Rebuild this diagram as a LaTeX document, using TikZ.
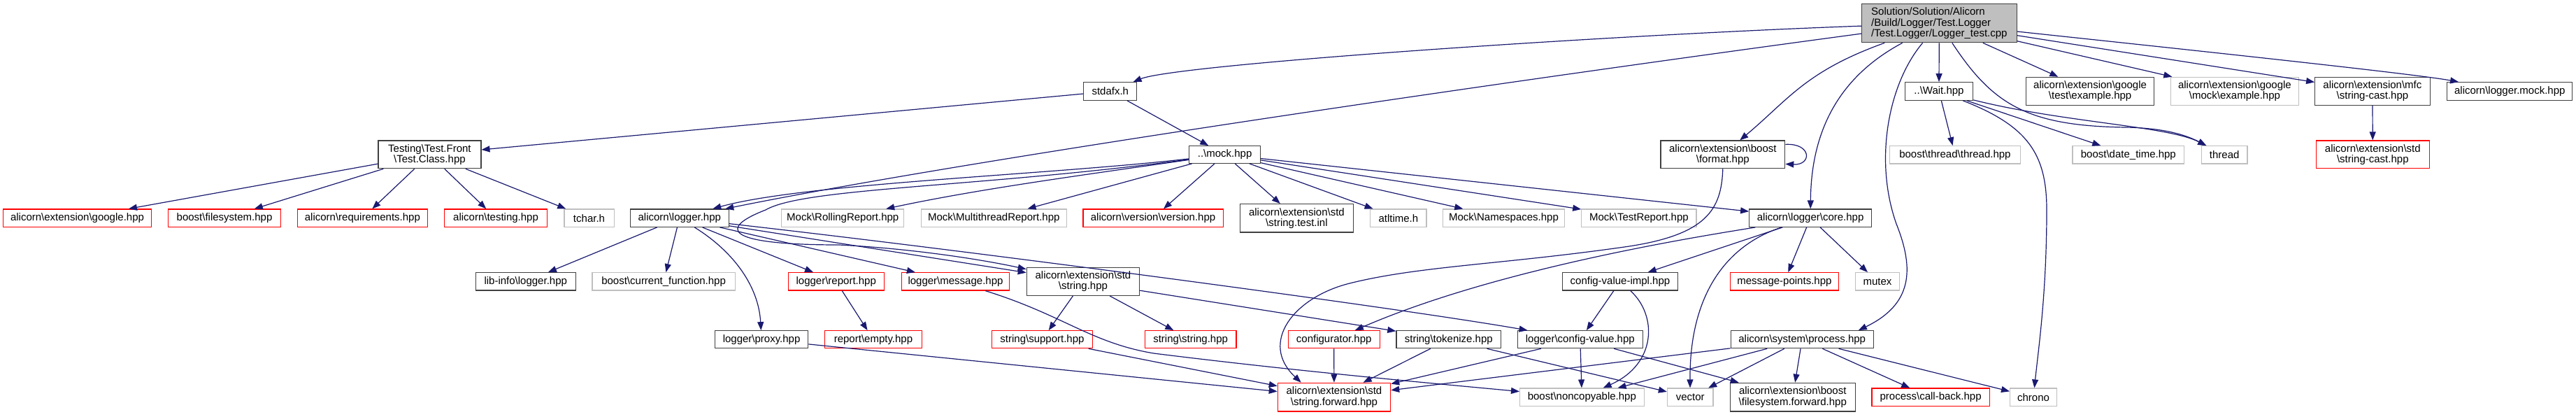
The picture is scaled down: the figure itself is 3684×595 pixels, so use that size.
\documentclass[tikz,border=0pt]{standalone}
\usepackage{fontspec}
\setmainfont{Liberation Sans}
\usetikzlibrary{arrows.meta,calc}
\definecolor{edgec}{HTML}{191970}
\definecolor{grayb}{HTML}{BFBFBF}
\definecolor{redb}{HTML}{FF0000}
\definecolor{blkb}{HTML}{404040}
\newcommand{\BS}{\textbackslash}
\begin{document}
\begin{tikzpicture}[x=1pt,y=-1pt,
 nd/.style={rectangle, inner sep=0pt, line width=1.2pt, fill=white, font=\fontsize{15}{15.3}\selectfont, align=center},
 blk/.style={nd, draw=blkb},
 rd/.style={nd, draw=redb},
 gr/.style={nd, draw=grayb},
 sz/.style 2 args={minimum width=#1pt, minimum height=#2pt},
 edge/.style={draw=edgec, line width=1.2pt, -{Triangle[length=12pt,width=9pt]}}]
\useasboundingbox (0,0) rectangle (3684,595);
\fill[white] (0,0) rectangle (3684,595);
% row 0
\node[blk,fill=grayb,align=left,sz={221.5}{55}] (root) at (2773.35,33.2) {Solution/Solution/Alicorn\\/Build/Logger/Test.Logger\\/Test.Logger/Logger\_test.cpp};
% row A
\node[blk,sz={75.9}{25.6}] (stdafx) at (1587.75,130.5) {stdafx.h};
\node[blk,sz={97.3}{25.6}] (wait) at (2772.95,130.5) {..\BS{}Wait.hpp};
\node[blk,sz={183.2}{40}] (gtest) at (2989.1,130.3) {alicorn\BS{}extension\BS{}google\\\BS{}test\BS{}example.hpp};
\node[gr,sz={182.6}{40}] (gmock) at (3195.9,130.3) {alicorn\BS{}extension\BS{}google\\\BS{}mock\BS{}example.hpp};
\node[blk,sz={164.4}{40}] (mfc) at (3392.9,130.3) {alicorn\BS{}extension\BS{}mfc\\\BS{}string-cast.hpp};
\node[blk,sz={179.1}{25.6}] (lmock) at (3589.25,130.5) {alicorn\BS{}logger.mock.hpp};
% row B
\node[blk,sz={147}{39.7}] (testing) at (614.4,220.85) {Testing\BS{}Test.Front\\\BS{}Test.Class.hpp};
\node[blk,sz={101.6}{24.6}] (mock) at (1751.6,221) {..\BS{}mock.hpp};
\node[blk,sz={177.8}{39.7}] (format) at (2463.8,220.85) {alicorn\BS{}extension\BS{}boost\\\BS{}format.hpp};
\node[gr,sz={186.6}{25.3}] (thrhpp) at (2795.9,221.35) {boost\BS{}thread\BS{}thread.hpp};
\node[gr,sz={159.8}{25.3}] (datetime) at (3043.8,221.35) {boost\BS{}date\_time.hpp};
\node[gr,sz={65.7}{25.3}] (thread) at (3181.15,221.35) {thread};
\node[rd,sz={162}{39.7}] (stdcast) at (3393.3,220.85) {alicorn\BS{}extension\BS{}std\\\BS{}string-cast.hpp};
% row C
\node[rd,sz={212.4}{25.3}] (google) at (110.5,311.65) {alicorn\BS{}extension\BS{}google.hpp};
\node[rd,sz={160.5}{25.3}] (fsys) at (321.05,311.65) {boost\BS{}filesystem.hpp};
\node[rd,sz={185.8}{25.3}] (req) at (518.4,311.65) {alicorn\BS{}requirements.hpp};
\node[rd,sz={147.5}{25.3}] (testhpp) at (709.05,311.65) {alicorn\BS{}testing.hpp};
\node[gr,sz={71.2}{25.3}] (tchar) at (842.5,311.65) {tchar.h};
\node[blk,sz={140.8}{25.3}] (logger) at (971.8,311.65) {alicorn\BS{}logger.hpp};
\node[gr,sz={175.1}{25.3}] (rolling) at (1205.25,311.65) {Mock\BS{}RollingReport.hpp};
\node[gr,sz={208}{25.3}] (multi) at (1421.3,311.65) {Mock\BS{}MultithreadReport.hpp};
\node[rd,sz={200.1}{25.3}] (version) at (1649.05,311.65) {alicorn\BS{}version\BS{}version.hpp};
\node[blk,sz={161.6}{40.3}] (strtest) at (1854.4,311.85) {alicorn\BS{}extension\BS{}std\\\BS{}string.test.inl};
\node[gr,sz={80.3}{25.3}] (atltime) at (1999.85,311.65) {atltime.h};
\node[gr,sz={173.6}{25.3}] (namesp) at (2150.5,311.65) {Mock\BS{}Namespaces.hpp};
\node[gr,sz={164.1}{25.3}] (testrep) at (2343.85,311.65) {Mock\BS{}TestReport.hpp};
\node[blk,sz={174.8}{25.3}] (core) at (2589.1,311.65) {alicorn\BS{}logger\BS{}core.hpp};
% row D
\node[blk,sz={142.7}{25.3}] (libinfo) at (751.75,402.35) {lib-info\BS{}logger.hpp};
\node[gr,sz={204.4}{25.3}] (curfun) at (949.1,402.35) {boost\BS{}current\_function.hpp};
\node[rd,sz={137.1}{25.3}] (report) at (1195.75,402.35) {logger\BS{}report.hpp};
\node[rd,sz={154.6}{25.3}] (message) at (1366.5,402.35) {logger\BS{}message.hpp};
\node[blk,sz={161.3}{40}] (stdstr) at (1548.95,402.35) {alicorn\BS{}extension\BS{}std\\\BS{}string.hpp};
\node[blk,sz={165.7}{25.3}] (cvimpl) at (2316.95,402.35) {config-value-impl.hpp};
\node[rd,sz={155}{25.3}] (msgpts) at (2551.9,402.35) {message-points.hpp};
\node[gr,sz={62.9}{25.3}] (mutex) at (2684.95,402.35) {mutex};
% row E
\node[blk,sz={133.3}{25}] (proxy) at (1089.05,485.2) {logger\BS{}proxy.hpp};
\node[rd,sz={139.1}{25}] (empty) at (1248.95,485.2) {report\BS{}empty.hpp};
\node[rd,sz={143.9}{25}] (support) at (1490.45,485.2) {string\BS{}support.hpp};
\node[rd,sz={130.8}{25}] (strstr) at (1702.6,485.2) {string\BS{}string.hpp};
\node[rd,sz={130.8}{25}] (config) at (1907.7,485.2) {configurator.hpp};
\node[blk,sz={149.8}{25}] (tokenize) at (2071.8,485.2) {string\BS{}tokenize.hpp};
\node[blk,sz={178.8}{25}] (cval) at (2259.8,485.2) {logger\BS{}config-value.hpp};
\node[blk,sz={204}{25}] (process) at (2577.2,485.2) {alicorn\BS{}system\BS{}process.hpp};
% row F
\node[rd,sz={161.3}{40.7}] (strfwd) at (1907.95,567.65) {alicorn\BS{}extension\BS{}std\\\BS{}string.forward.hpp};
\node[gr,sz={177.5}{25.7}] (noncopy) at (2262.35,567.85) {boost\BS{}noncopyable.hpp};
\node[gr,sz={65.5}{25.7}] (vector) at (2417.15,567.85) {vector};
\node[blk,sz={178.7}{40.7}] (fsfwd) at (2563.75,567.65) {alicorn\BS{}extension\BS{}boost\\\BS{}filesystem.forward.hpp};
\node[rd,sz={168.4}{25.7}] (callback) at (2761.1,567.85) {process\BS{}call-back.hpp};
\node[gr,sz={66.8}{25.7}] (chrono) at (2908,567.85) {chrono};

% ---- edges from root
\draw[edge] (root) .. controls (2300,50) and (1682,92) .. (stdafx);
\draw[edge] (root) .. controls (2200,110) and (1400,225) .. (logger);
\draw[edge] (root) .. controls (2582,102) and (2558,142) .. (format);
\draw[edge] (root) .. controls (2620,115) and (2590,200) .. (core);
\draw[edge] (root) .. controls (2700,120) and (2680,230) .. (2712,320) .. controls (2738,385) and (2735,435) .. ($(process.north east)+(-22,0)$);
\draw[edge] (root) -- (wait);
\draw[edge] (root) -- (gtest);
\draw[edge] (root) -- (gmock);
\draw[edge] (root) -- (mfc);
\draw[edge] (root) .. controls (3100,68) and (3450,105) .. (lmock);
\draw[edge] (root) .. controls (2850,150) and (2900,180) .. (3040,182) .. controls (3100,183) and (3130,195) .. (thread);
% format self loop
\draw[edge] ($(format.north east)+(0,6)$) .. controls +(38,-2) and +(38,2) .. ($(format.north east)+(0,34)$);
% stdafx
\draw[edge] (stdafx) -- (testing);
\draw[edge] (stdafx) -- (mock);
% wait
\draw[edge] (wait) -- (thrhpp);
\draw[edge] (wait) -- (datetime);
\draw[edge] (wait) .. controls (2950,175) and (3100,180) .. (thread);
\draw[edge] (wait) .. controls (2900,180) and (2927,220) .. (2927,300) .. controls (2927,420) and (2915,500) .. (chrono);
% mfc
\draw[edge] (mfc) -- (stdcast);
% testing
\draw[edge] (testing) -- (google);
\draw[edge] (testing) -- (fsys);
\draw[edge] (testing) -- (req);
\draw[edge] (testing) -- (testhpp);
\draw[edge] (testing) -- (tchar);
% mock
\draw[edge] (mock) .. controls (1500,250) and (1150,262) .. (logger);
\draw[edge] (mock) .. controls (1400,268) and (1150,268) .. (1095,300) .. controls (1030,325) and (1030,350) .. (1200,350) .. controls (1300,355) and (1400,370) .. (stdstr);
\draw[edge] (mock) .. controls (1550,250) and (1400,270) .. (rolling);
\draw[edge] (mock) -- (multi);
\draw[edge] (mock) -- (version);
\draw[edge] (mock) -- (strtest);
\draw[edge] (mock) -- (atltime);
\draw[edge] (mock) -- (namesp);
\draw[edge] (mock) -- (testrep);
\draw[edge] (mock) -- (core);
% logger
\draw[edge] (logger) -- (libinfo);
\draw[edge] (logger) -- (curfun);
\draw[edge] (logger) .. controls (1050,360) and (1085,410) .. (proxy);
\draw[edge] (logger) -- (report);
\draw[edge] (logger) -- (message);
\draw[edge] (logger) -- (stdstr);
\draw[edge] (logger) .. controls (1400,360) and (2000,440) .. (cval);
% others
\draw[edge] (report) -- (empty);
\draw[edge] (proxy) -- (strfwd);
\draw[edge] (message) .. controls (1520,450) and (1560,490) .. (1650,505) .. controls (1850,530) and (2050,548) .. (noncopy);
\draw[edge] (stdstr) -- (support);
\draw[edge] (stdstr) -- (strstr);
\draw[edge] (stdstr) -- (tokenize);
\draw[edge] (support) -- (strfwd);
\draw[edge] (format.south) .. controls (2462,300) and (2440,335) .. (2330,352) .. controls (2150,378) and (2030,380) .. (1930,405) .. controls (1850,425) and (1800,490) .. ($(strfwd.north west)+(34,0)$);
% core
\draw[edge] (core) .. controls (2450,335) and (2150,380) .. (config);
\draw[edge] (core) -- (cvimpl);
\draw[edge] (core) .. controls (2470,350) and (2416,420) .. (vector);
\draw[edge] (core) -- (msgpts);
\draw[edge] (core) -- (mutex);
% config-value-impl
\draw[edge] (cvimpl) -- (cval);
\draw[edge] (cvimpl) .. controls (2370,450) and (2370,520) .. (noncopy);
% row E
\draw[edge] (config) -- (strfwd);
\draw[edge] (tokenize) -- (strfwd);
\draw[edge] (tokenize) -- (vector);
\draw[edge] (cval) -- (strfwd);
\draw[edge] (cval) -- (noncopy);
\draw[edge] (cval) -- (fsfwd);
% process
\draw[edge] (process) -- (strfwd);
\draw[edge] (process) -- (noncopy);
\draw[edge] (process) -- (vector);
\draw[edge] (process) -- (fsfwd);
\draw[edge] (process) -- (callback);
\draw[edge] (process) -- (chrono);
\end{tikzpicture}
\end{document}
